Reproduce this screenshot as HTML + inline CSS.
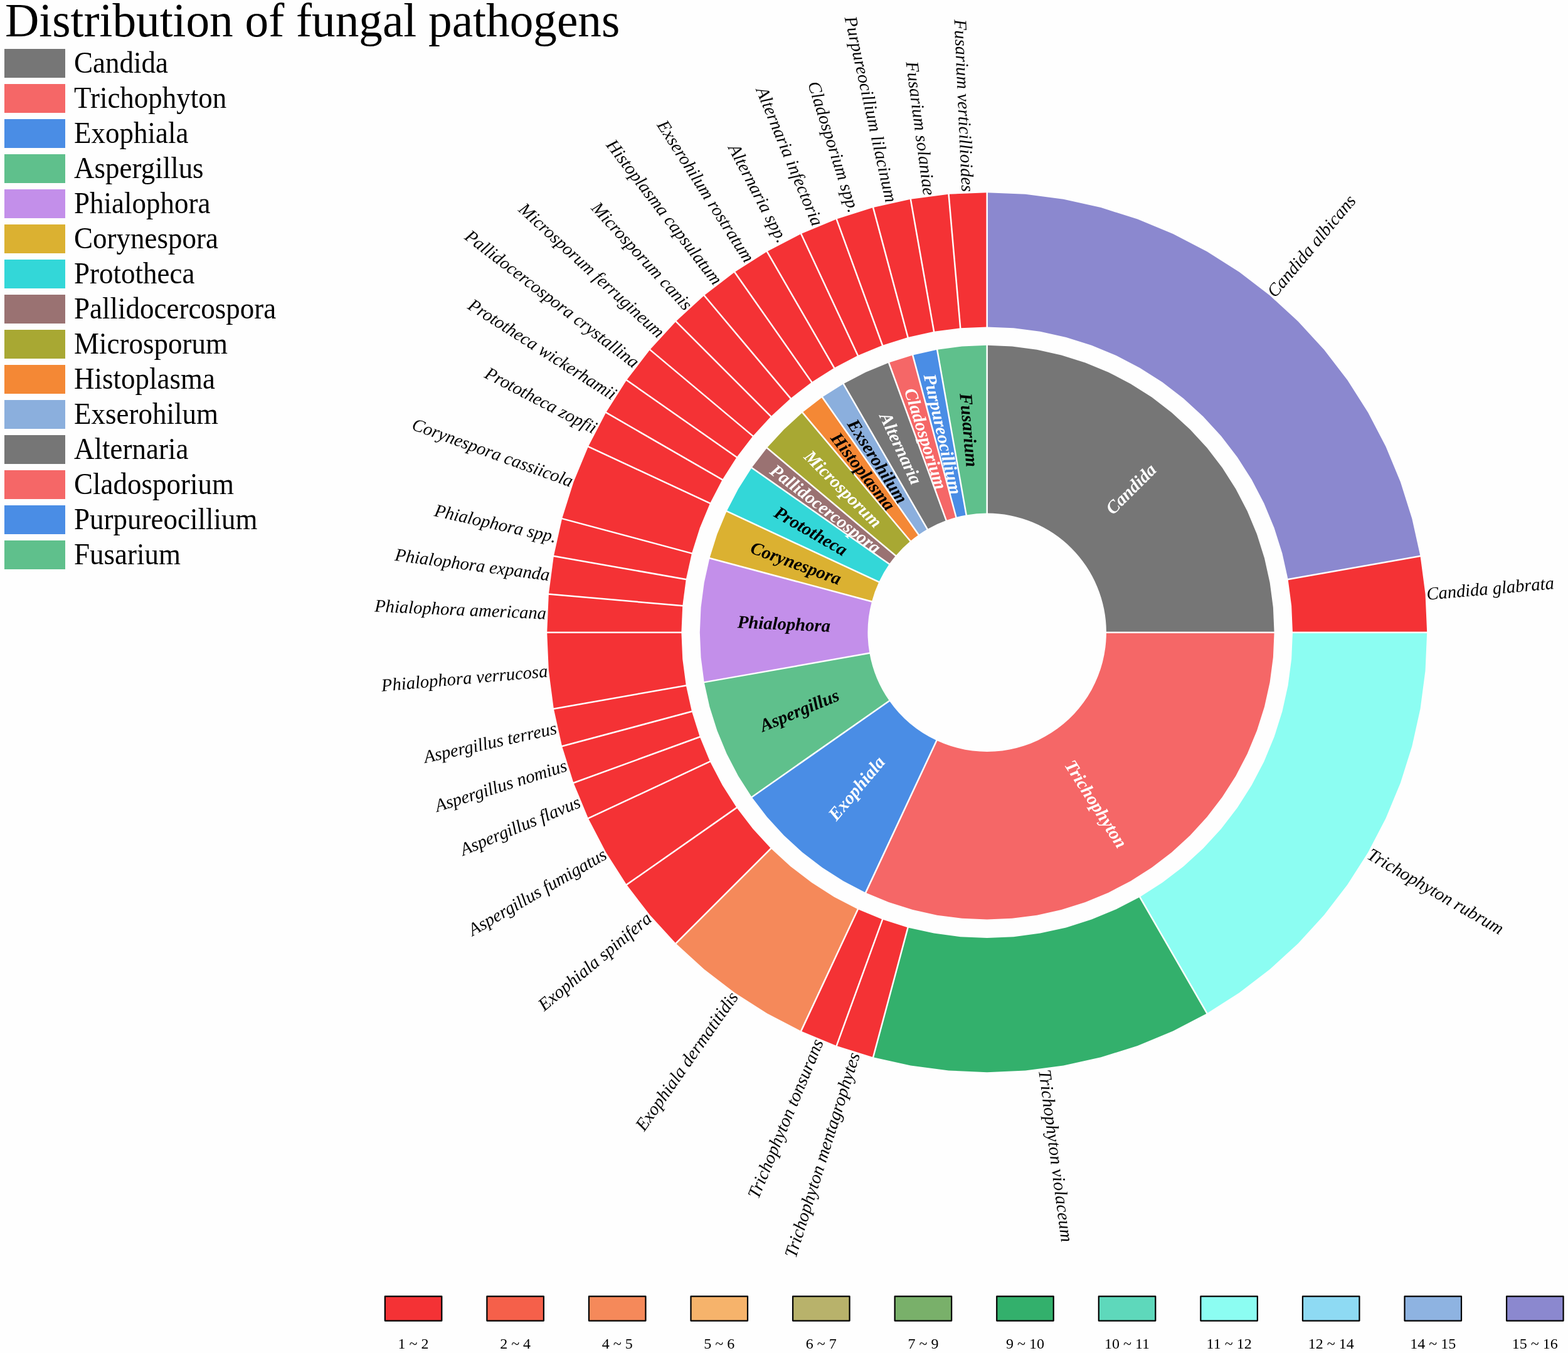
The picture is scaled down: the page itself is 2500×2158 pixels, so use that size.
<!DOCTYPE html><html><head><meta charset="utf-8"><title>Distribution of fungal pathogens</title><style>html,body{margin:0;padding:0;background:#fefefe}svg{display:block}</style></head><body>
<svg width="2500" height="2158" viewBox="0 0 2500 2158" font-family="'Liberation Serif','Times New Roman',serif">
<rect width="2500" height="2158" fill="#fefefe"/>
<text x="8" y="58" font-size="75.25" fill="#000">Distribution of fungal pathogens</text>
<rect x="7" y="78" width="97" height="46" fill="#767676"/>
<text transform="translate(118 116.1) scale(1 1.06)" font-size="45" fill="#000">Candida</text>
<rect x="7" y="134" width="97" height="46" fill="#f56767"/>
<text transform="translate(118 172.1) scale(1 1.06)" font-size="45" fill="#000">Trichophyton</text>
<rect x="7" y="190" width="97" height="46" fill="#4a8de5"/>
<text transform="translate(118 228.1) scale(1 1.06)" font-size="45" fill="#000">Exophiala</text>
<rect x="7" y="246" width="97" height="46" fill="#5fc08c"/>
<text transform="translate(118 284.1) scale(1 1.06)" font-size="45" fill="#000">Aspergillus</text>
<rect x="7" y="302" width="97" height="46" fill="#c38fea"/>
<text transform="translate(118 340.1) scale(1 1.06)" font-size="45" fill="#000">Phialophora</text>
<rect x="7" y="358" width="97" height="46" fill="#dbb131"/>
<text transform="translate(118 396.1) scale(1 1.06)" font-size="45" fill="#000">Corynespora</text>
<rect x="7" y="414" width="97" height="46" fill="#33d7d8"/>
<text transform="translate(118 452.1) scale(1 1.06)" font-size="45" fill="#000">Prototheca</text>
<rect x="7" y="470" width="97" height="46" fill="#9a7272"/>
<text transform="translate(118 508.1) scale(1 1.06)" font-size="45" fill="#000">Pallidocercospora</text>
<rect x="7" y="526" width="97" height="46" fill="#a8a833"/>
<text transform="translate(118 564.1) scale(1 1.06)" font-size="45" fill="#000">Microsporum</text>
<rect x="7" y="582" width="97" height="46" fill="#f48835"/>
<text transform="translate(118 620.1) scale(1 1.06)" font-size="45" fill="#000">Histoplasma</text>
<rect x="7" y="638" width="97" height="46" fill="#8bafdd"/>
<text transform="translate(118 676.1) scale(1 1.06)" font-size="45" fill="#000">Exserohilum</text>
<rect x="7" y="694" width="97" height="46" fill="#767676"/>
<text transform="translate(118 732.1) scale(1 1.06)" font-size="45" fill="#000">Alternaria</text>
<rect x="7" y="750" width="97" height="46" fill="#f56767"/>
<text transform="translate(118 788.1) scale(1 1.06)" font-size="45" fill="#000">Cladosporium</text>
<rect x="7" y="806" width="97" height="46" fill="#4a8de5"/>
<text transform="translate(118 844.1) scale(1 1.06)" font-size="45" fill="#000">Purpureocillium</text>
<rect x="7" y="862" width="97" height="46" fill="#5fc08c"/>
<text transform="translate(118 900.1) scale(1 1.06)" font-size="45" fill="#000">Fusarium</text>
<path d="M1573.7 550.8 1613.61 552.54 1653.21 557.76 1692.21 566.4 1730.31 578.41 1767.22 593.7 1802.65 612.15 1836.34 633.61 1868.03 657.93 1897.48 684.92 1924.47 714.37 1948.79 746.06 1970.25 779.75 1988.7 815.18 2003.99 852.09 2016 890.19 2024.64 929.19 2029.86 968.79 2031.6 1008.7L1763.9 1008.7A190.2 190.2 0 0 0 1573.7 818.5Z" fill="#767676"/>
<path d="M2031.6 1008.7 2029.86 1048.61 2024.64 1088.21 2016 1127.21 2003.99 1165.31 1988.7 1202.22 1970.25 1237.65 1948.79 1271.34 1924.47 1303.03 1897.48 1332.48 1868.03 1359.47 1836.34 1383.79 1802.65 1405.25 1767.22 1423.7 1730.31 1438.99 1692.21 1451 1653.21 1459.64 1613.61 1464.86 1573.7 1466.6 1533.79 1464.86 1494.19 1459.64 1455.19 1451 1417.09 1438.99 1380.18 1423.7L1493.32 1181.08A190.2 190.2 0 0 0 1763.9 1008.7Z" fill="#f56767"/>
<path d="M1380.18 1423.7 1344.75 1405.25 1311.06 1383.79 1279.37 1359.47 1249.92 1332.48 1222.93 1303.03 1198.61 1271.34L1417.9 1117.79A190.2 190.2 0 0 0 1493.32 1181.08Z" fill="#4a8de5"/>
<path d="M1198.61 1271.34 1177.15 1237.65 1158.7 1202.22 1143.41 1165.31 1131.4 1127.21 1122.76 1088.21L1386.39 1041.73A190.2 190.2 0 0 0 1417.9 1117.79Z" fill="#5fc08c"/>
<path d="M1122.76 1088.21 1117.54 1048.61 1115.8 1008.7 1117.54 968.79 1122.76 929.19 1131.4 890.19L1389.98 959.47A190.2 190.2 0 0 0 1386.39 1041.73Z" fill="#c38fea"/>
<path d="M1131.4 890.19 1143.41 852.09 1158.7 815.18L1401.32 928.32A190.2 190.2 0 0 0 1389.98 959.47Z" fill="#dbb131"/>
<path d="M1158.7 815.18 1177.15 779.75 1198.61 746.06L1417.9 899.61A190.2 190.2 0 0 0 1401.32 928.32Z" fill="#33d7d8"/>
<path d="M1198.61 746.06 1222.93 714.37L1428 886.44A190.2 190.2 0 0 0 1417.9 899.61Z" fill="#9a7272"/>
<path d="M1222.93 714.37 1249.92 684.92 1279.37 657.93L1451.44 863A190.2 190.2 0 0 0 1428 886.44Z" fill="#a8a833"/>
<path d="M1279.37 657.93 1311.06 633.61L1464.61 852.9A190.2 190.2 0 0 0 1451.44 863Z" fill="#f48835"/>
<path d="M1311.06 633.61 1344.75 612.15L1478.6 843.98A190.2 190.2 0 0 0 1464.61 852.9Z" fill="#8bafdd"/>
<path d="M1344.75 612.15 1380.18 593.7 1417.09 578.41L1508.65 829.97A190.2 190.2 0 0 0 1478.6 843.98Z" fill="#767676"/>
<path d="M1417.09 578.41 1455.19 566.4L1524.47 824.98A190.2 190.2 0 0 0 1508.65 829.97Z" fill="#f56767"/>
<path d="M1455.19 566.4 1494.19 557.76L1540.67 821.39A190.2 190.2 0 0 0 1524.47 824.98Z" fill="#4a8de5"/>
<path d="M1494.19 557.76 1533.79 552.54 1573.7 550.8L1573.7 818.5A190.2 190.2 0 0 0 1540.67 821.39Z" fill="#5fc08c"/>
<path d="M1573.7 307.2 1634.84 309.87 1695.51 317.86 1755.26 331.1 1813.63 349.51 1870.17 372.93 1924.45 401.18 1976.06 434.06 2024.62 471.32 2069.74 512.66 2111.08 557.78 2148.34 606.34 2181.22 657.95 2209.47 712.23 2232.89 768.77 2251.3 827.14 2264.54 886.89 2053.6 924.08 2044.4 882.58 2031.61 842.03 2015.34 802.76 1995.71 765.05 1972.87 729.2 1946.99 695.47 1918.27 664.13 1886.93 635.41 1853.2 609.53 1817.35 586.69 1779.64 567.06 1740.37 550.79 1699.82 538 1658.32 528.8 1616.17 523.25 1573.7 521.4Z" fill="#8b88cf"/>
<path d="M2264.54 886.89 2272.53 947.56 2275.2 1008.7 2061 1008.7 2059.15 966.23 2053.6 924.08Z" fill="#f43235"/>
<path d="M2275.2 1008.7 2272.53 1069.84 2264.54 1130.51 2251.3 1190.26 2232.89 1248.63 2209.47 1305.17 2181.22 1359.45 2148.34 1411.06 2111.08 1459.62 2069.74 1504.74 2024.62 1546.08 1976.06 1583.34 1924.45 1616.22 1817.35 1430.71 1853.2 1407.87 1886.93 1381.99 1918.27 1353.27 1946.99 1321.93 1972.87 1288.2 1995.71 1252.35 2015.34 1214.64 2031.61 1175.37 2044.4 1134.82 2053.6 1093.32 2059.15 1051.17 2061 1008.7Z" fill="#8cfdf2"/>
<path d="M1924.45 1616.22 1870.17 1644.47 1813.63 1667.89 1755.26 1686.3 1695.51 1699.54 1634.84 1707.53 1573.7 1710.2 1512.56 1707.53 1451.89 1699.54 1392.14 1686.3 1447.58 1479.4 1489.08 1488.6 1531.23 1494.15 1573.7 1496 1616.17 1494.15 1658.32 1488.6 1699.82 1479.4 1740.37 1466.61 1779.64 1450.34 1817.35 1430.71Z" fill="#33b06c"/>
<path d="M1392.14 1686.3 1333.77 1667.89 1407.03 1466.61 1447.58 1479.4Z" fill="#f43235"/>
<path d="M1333.77 1667.89 1277.23 1644.47 1367.76 1450.34 1407.03 1466.61Z" fill="#f43235"/>
<path d="M1277.23 1644.47 1222.95 1616.22 1171.34 1583.34 1122.78 1546.08 1077.66 1504.74 1229.13 1353.27 1260.47 1381.99 1294.2 1407.87 1330.05 1430.71 1367.76 1450.34Z" fill="#f5895a"/>
<path d="M1077.66 1504.74 1036.32 1459.62 999.06 1411.06 1174.53 1288.2 1200.41 1321.93 1229.13 1353.27Z" fill="#f43235"/>
<path d="M999.06 1411.06 966.18 1359.45 937.93 1305.17 1132.06 1214.64 1151.69 1252.35 1174.53 1288.2Z" fill="#f43235"/>
<path d="M937.93 1305.17 914.51 1248.63 1115.79 1175.37 1132.06 1214.64Z" fill="#f43235"/>
<path d="M914.51 1248.63 896.1 1190.26 1103 1134.82 1115.79 1175.37Z" fill="#f43235"/>
<path d="M896.1 1190.26 882.86 1130.51 1093.8 1093.32 1103 1134.82Z" fill="#f43235"/>
<path d="M882.86 1130.51 874.87 1069.84 872.2 1008.7 1086.4 1008.7 1088.25 1051.17 1093.8 1093.32Z" fill="#f43235"/>
<path d="M872.2 1008.7 874.87 947.56 1088.25 966.23 1086.4 1008.7Z" fill="#f43235"/>
<path d="M874.87 947.56 882.86 886.89 1093.8 924.08 1088.25 966.23Z" fill="#f43235"/>
<path d="M882.86 886.89 896.1 827.14 1103 882.58 1093.8 924.08Z" fill="#f43235"/>
<path d="M896.1 827.14 914.51 768.77 937.93 712.23 1132.06 802.76 1115.79 842.03 1103 882.58Z" fill="#f43235"/>
<path d="M937.93 712.23 966.18 657.95 1151.69 765.05 1132.06 802.76Z" fill="#f43235"/>
<path d="M966.18 657.95 999.06 606.34 1174.53 729.2 1151.69 765.05Z" fill="#f43235"/>
<path d="M999.06 606.34 1036.32 557.78 1200.41 695.47 1174.53 729.2Z" fill="#f43235"/>
<path d="M1036.32 557.78 1077.66 512.66 1229.13 664.13 1200.41 695.47Z" fill="#f43235"/>
<path d="M1077.66 512.66 1122.78 471.32 1260.47 635.41 1229.13 664.13Z" fill="#f43235"/>
<path d="M1122.78 471.32 1171.34 434.06 1294.2 609.53 1260.47 635.41Z" fill="#f43235"/>
<path d="M1171.34 434.06 1222.95 401.18 1330.05 586.69 1294.2 609.53Z" fill="#f43235"/>
<path d="M1222.95 401.18 1277.23 372.93 1367.76 567.06 1330.05 586.69Z" fill="#f43235"/>
<path d="M1277.23 372.93 1333.77 349.51 1407.03 550.79 1367.76 567.06Z" fill="#f43235"/>
<path d="M1333.77 349.51 1392.14 331.1 1447.58 538 1407.03 550.79Z" fill="#f43235"/>
<path d="M1392.14 331.1 1451.89 317.86 1489.08 528.8 1447.58 538Z" fill="#f43235"/>
<path d="M1451.89 317.86 1512.56 309.87 1531.23 523.25 1489.08 528.8Z" fill="#f43235"/>
<path d="M1512.56 309.87 1573.7 307.2 1573.7 521.4 1531.23 523.25Z" fill="#f43235"/>
<g stroke="#fff" stroke-width="2.5">
<line x1="1573.7" y1="819.5" x2="1573.7" y2="549.8"/>
<line x1="1762.9" y1="1008.7" x2="2032.6" y2="1008.7"/>
<line x1="1493.74" y1="1180.17" x2="1379.76" y2="1424.6"/>
<line x1="1418.72" y1="1117.22" x2="1197.79" y2="1271.91"/>
<line x1="1387.37" y1="1041.55" x2="1121.77" y2="1088.39"/>
<line x1="1390.95" y1="959.73" x2="1130.44" y2="889.93"/>
<line x1="1402.23" y1="928.74" x2="1157.8" y2="814.76"/>
<line x1="1418.72" y1="900.18" x2="1197.79" y2="745.49"/>
<line x1="1428.76" y1="887.08" x2="1222.16" y2="713.72"/>
<line x1="1452.08" y1="863.76" x2="1278.72" y2="657.16"/>
<line x1="1465.18" y1="853.72" x2="1310.49" y2="632.79"/>
<line x1="1479.1" y1="844.85" x2="1344.25" y2="611.28"/>
<line x1="1508.99" y1="830.91" x2="1416.75" y2="577.48"/>
<line x1="1524.73" y1="825.95" x2="1454.93" y2="565.44"/>
<line x1="1540.85" y1="822.37" x2="1494.01" y2="556.77"/>
<line x1="1573.7" y1="522.4" x2="1573.7" y2="306.2"/>
<line x1="2052.61" y1="924.25" x2="2265.53" y2="886.71"/>
<line x1="2060" y1="1008.7" x2="2276.2" y2="1008.7"/>
<line x1="1816.85" y1="1429.85" x2="1924.95" y2="1617.08"/>
<line x1="1447.84" y1="1478.43" x2="1391.88" y2="1687.26"/>
<line x1="1407.38" y1="1465.67" x2="1333.43" y2="1668.83"/>
<line x1="1368.18" y1="1449.44" x2="1276.81" y2="1645.38"/>
<line x1="1229.83" y1="1352.57" x2="1076.96" y2="1505.44"/>
<line x1="1175.35" y1="1287.63" x2="998.25" y2="1411.64"/>
<line x1="1132.96" y1="1214.22" x2="937.02" y2="1305.59"/>
<line x1="1116.73" y1="1175.02" x2="913.57" y2="1248.97"/>
<line x1="1103.97" y1="1134.56" x2="895.14" y2="1190.52"/>
<line x1="1094.79" y1="1093.15" x2="881.87" y2="1130.69"/>
<line x1="1087.4" y1="1008.7" x2="871.2" y2="1008.7"/>
<line x1="1089.25" y1="966.32" x2="873.87" y2="947.47"/>
<line x1="1094.79" y1="924.25" x2="881.87" y2="886.71"/>
<line x1="1103.97" y1="882.84" x2="895.14" y2="826.88"/>
<line x1="1132.96" y1="803.18" x2="937.02" y2="711.81"/>
<line x1="1152.55" y1="765.55" x2="965.32" y2="657.45"/>
<line x1="1175.35" y1="729.77" x2="998.25" y2="605.76"/>
<line x1="1201.17" y1="696.11" x2="1035.55" y2="557.14"/>
<line x1="1229.83" y1="664.83" x2="1076.96" y2="511.96"/>
<line x1="1261.11" y1="636.17" x2="1122.14" y2="470.55"/>
<line x1="1294.77" y1="610.35" x2="1170.76" y2="433.25"/>
<line x1="1330.55" y1="587.55" x2="1222.45" y2="400.32"/>
<line x1="1368.18" y1="567.96" x2="1276.81" y2="372.02"/>
<line x1="1407.38" y1="551.73" x2="1333.43" y2="348.57"/>
<line x1="1447.84" y1="538.97" x2="1391.88" y2="330.14"/>
<line x1="1489.25" y1="529.79" x2="1451.71" y2="316.87"/>
<line x1="1531.32" y1="524.25" x2="1512.47" y2="308.87"/>
</g>
<g font-size="28.7" font-weight="bold" font-style="italic" text-anchor="middle" dominant-baseline="central">
<text transform="translate(1802.84 779.56) rotate(-45)" fill="#fff">Candida</text>
<text transform="translate(1747.81 1282) rotate(57.5)" fill="#fff">Trichophyton</text>
<text transform="translate(1365.4 1256.94) rotate(-50)" fill="#fff">Exophiala</text>
<text transform="translate(1274.32 1132.71) rotate(-22.5)" fill="#000">Aspergillus</text>
<text transform="translate(1249.96 994.57) rotate(2.5)" fill="#000">Phialophora</text>
<text transform="translate(1269.19 897.87) rotate(20)" fill="#000">Corynespora</text>
<text transform="translate(1293.06 846.68) rotate(30)" fill="#000">Prototheca</text>
<text transform="translate(1316.61 811.43) rotate(37.5)" fill="#fff">Pallidocercospora</text>
<text transform="translate(1344.56 779.56) rotate(45)" fill="#fff">Microsporum</text>
<text transform="translate(1376.43 751.61) rotate(52.5)" fill="#000">Histoplasma</text>
<text transform="translate(1399.59 735.4) rotate(57.5)" fill="#000">Exserohilum</text>
<text transform="translate(1436.75 715.01) rotate(65)" fill="#fff">Alternaria</text>
<text transform="translate(1476.26 699.65) rotate(72.5)" fill="#fff">Cladosporium</text>
<text transform="translate(1503.56 692.33) rotate(77.5)" fill="#fff">Purpureocillium</text>
<text transform="translate(1545.46 685.88) rotate(85)" fill="#000">Fusarium</text>
</g>
<g font-size="28.6" font-style="italic" dominant-baseline="central" fill="#000">
<text transform="translate(2025.77 469.94) rotate(-50)" text-anchor="start">Candida albicans</text>
<text transform="translate(2274.32 947.4) rotate(-5)" text-anchor="start">Candida glabrata</text>
<text transform="translate(2182.78 1360.35) rotate(30)" text-anchor="start">Trichophyton rubrum</text>
<text transform="translate(1665.5 1705.98) rotate(82.5)" text-anchor="start">Trichophyton violaceum</text>
<text transform="translate(1362.21 1679.45) rotate(-72.5)" text-anchor="end">Trichophyton mentagrophytes</text>
<text transform="translate(1304.56 1658.46) rotate(-67.5)" text-anchor="end">Trichophyton tonsurans</text>
<text transform="translate(1170.3 1584.81) rotate(-55)" text-anchor="end">Exophiala dermatitidis</text>
<text transform="translate(1034.94 1460.77) rotate(-40)" text-anchor="end">Exophiala spinifera</text>
<text transform="translate(964.62 1360.35) rotate(-30)" text-anchor="end">Aspergillus fumigatus</text>
<text transform="translate(923.94 1277.84) rotate(-22.5)" text-anchor="end">Aspergillus flavus</text>
<text transform="translate(902.95 1220.19) rotate(-17.5)" text-anchor="end">Aspergillus nomius</text>
<text transform="translate(887.07 1160.92) rotate(-12.5)" text-anchor="end">Aspergillus terreus</text>
<text transform="translate(873.08 1070) rotate(-5)" text-anchor="end">Phialophora verrucosa</text>
<text transform="translate(871.07 978.02) rotate(2.5)" text-anchor="end">Phialophora americana</text>
<text transform="translate(876.42 916.9) rotate(7.5)" text-anchor="end">Phialophora expanda</text>
<text transform="translate(887.07 856.48) rotate(12.5)" text-anchor="end">Phialophora spp.</text>
<text transform="translate(912.81 768.16) rotate(20)" text-anchor="end">Corynespora cassiicola</text>
<text transform="translate(949.87 683.95) rotate(27.5)" text-anchor="end">Prototheca zopfii</text>
<text transform="translate(980.54 630.82) rotate(32.5)" text-anchor="end">Prototheca wickerhamii</text>
<text transform="translate(1015.73 580.56) rotate(37.5)" text-anchor="end">Pallidocercospora crystallina</text>
<text transform="translate(1055.17 533.56) rotate(42.5)" text-anchor="end">Microsporum ferrugineum</text>
<text transform="translate(1098.56 490.17) rotate(47.5)" text-anchor="end">Microsporum canis</text>
<text transform="translate(1145.56 450.73) rotate(52.5)" text-anchor="end">Histoplasma capsulatum</text>
<text transform="translate(1195.82 415.54) rotate(57.5)" text-anchor="end">Exserohilum rostratum</text>
<text transform="translate(1248.95 384.87) rotate(62.5)" text-anchor="end">Alternaria spp.</text>
<text transform="translate(1304.56 358.94) rotate(67.5)" text-anchor="end">Alternaria infectoria</text>
<text transform="translate(1362.21 337.95) rotate(72.5)" text-anchor="end">Cladosporium spp.</text>
<text transform="translate(1421.48 322.07) rotate(77.5)" text-anchor="end">Purpureocillium lilacinum</text>
<text transform="translate(1481.9 311.42) rotate(82.5)" text-anchor="end">Fusarium solaniae</text>
<text transform="translate(1543.02 306.07) rotate(87.5)" text-anchor="end">Fusarium verticillioides</text>
</g>
<rect x="613.8" y="2067.6" width="90.5" height="39" fill="#f43235" stroke="#000" stroke-width="2.2" stroke-linejoin="round"/>
<text x="659.05" y="2151.3" font-size="24" text-anchor="middle" fill="#000">1 ~ 2</text>
<rect x="776.37" y="2067.6" width="90.5" height="39" fill="#f5604a" stroke="#000" stroke-width="2.2" stroke-linejoin="round"/>
<text x="821.62" y="2151.3" font-size="24" text-anchor="middle" fill="#000">2 ~ 4</text>
<rect x="938.94" y="2067.6" width="90.5" height="39" fill="#f5895a" stroke="#000" stroke-width="2.2" stroke-linejoin="round"/>
<text x="984.19" y="2151.3" font-size="24" text-anchor="middle" fill="#000">4 ~ 5</text>
<rect x="1101.51" y="2067.6" width="90.5" height="39" fill="#f6b36b" stroke="#000" stroke-width="2.2" stroke-linejoin="round"/>
<text x="1146.76" y="2151.3" font-size="24" text-anchor="middle" fill="#000">5 ~ 6</text>
<rect x="1264.08" y="2067.6" width="90.5" height="39" fill="#b8b26b" stroke="#000" stroke-width="2.2" stroke-linejoin="round"/>
<text x="1309.33" y="2151.3" font-size="24" text-anchor="middle" fill="#000">6 ~ 7</text>
<rect x="1426.65" y="2067.6" width="90.5" height="39" fill="#79b06a" stroke="#000" stroke-width="2.2" stroke-linejoin="round"/>
<text x="1471.9" y="2151.3" font-size="24" text-anchor="middle" fill="#000">7 ~ 9</text>
<rect x="1589.22" y="2067.6" width="90.5" height="39" fill="#33b06c" stroke="#000" stroke-width="2.2" stroke-linejoin="round"/>
<text x="1634.47" y="2151.3" font-size="24" text-anchor="middle" fill="#000">9 ~ 10</text>
<rect x="1751.79" y="2067.6" width="90.5" height="39" fill="#5ed8bb" stroke="#000" stroke-width="2.2" stroke-linejoin="round"/>
<text x="1797.04" y="2151.3" font-size="24" text-anchor="middle" fill="#000">10 ~ 11</text>
<rect x="1914.36" y="2067.6" width="90.5" height="39" fill="#8cfdf2" stroke="#000" stroke-width="2.2" stroke-linejoin="round"/>
<text x="1959.61" y="2151.3" font-size="24" text-anchor="middle" fill="#000">11 ~ 12</text>
<rect x="2076.93" y="2067.6" width="90.5" height="39" fill="#8edaf3" stroke="#000" stroke-width="2.2" stroke-linejoin="round"/>
<text x="2122.18" y="2151.3" font-size="24" text-anchor="middle" fill="#000">12 ~ 14</text>
<rect x="2239.5" y="2067.6" width="90.5" height="39" fill="#8eb3e1" stroke="#000" stroke-width="2.2" stroke-linejoin="round"/>
<text x="2284.75" y="2151.3" font-size="24" text-anchor="middle" fill="#000">14 ~ 15</text>
<rect x="2402.07" y="2067.6" width="90.5" height="39" fill="#8b88cf" stroke="#000" stroke-width="2.2" stroke-linejoin="round"/>
<text x="2447.32" y="2151.3" font-size="24" text-anchor="middle" fill="#000">15 ~ 16</text>
</svg></body></html>
